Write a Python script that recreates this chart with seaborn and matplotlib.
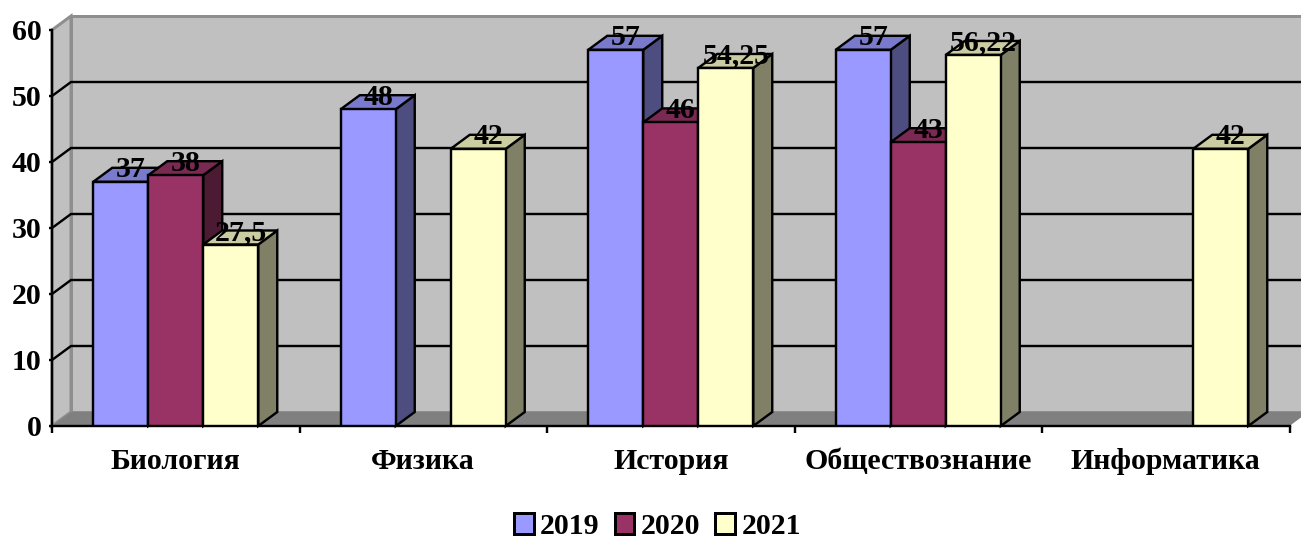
import numpy as np
import pandas as pd
import matplotlib
matplotlib.use("Agg")
import matplotlib.pyplot as plt
from matplotlib.colors import to_rgb
from matplotlib.lines import Line2D
from matplotlib.patches import Polygon, Rectangle
from matplotlib.transforms import IdentityTransform
import seaborn as sns

subjects = ["Биология", "Физика", "История", "Обществознание", "Информатика"]
years = ["2019", "2020", "2021"]
values_2019 = [37, 48, 57, 57, np.nan]
values_2020 = [38, np.nan, 46, 43, np.nan]
values_2021 = [27.5, 42, 54.25, 56.22, 42]
colors = ["#9999FF", "#993366", "#FFFFCC"]

DX, DY = 19, 14          # depth of the pseudo-3D projection, in pixels
EDGE_PX = 2.4
LW = EDGE_PX * 72 / 100

sns.set_theme(style="white")
plt.rcParams["font.family"] = ["Liberation Serif", "DejaVu Serif"]
plt.rcParams["font.weight"] = "bold"
FONT = 21.5

df = pd.DataFrame({
    "subject": subjects * 3,
    "year": sum([[y] * 5 for y in years], []),
    "value": values_2019 + values_2020 + values_2021,
})

fig = plt.figure(figsize=(13.01, 5.38), dpi=100)
ax = fig.add_axes([52 / 1301, (538 - 426) / 538, 1237.5 / 1301, 396 / 538])
sns.barplot(data=df, x="subject", y="value", hue="year", order=subjects, hue_order=years,
            palette=colors, width=2 / 3, gap=0, saturation=1, edgecolor="black",
            linewidth=LW, ax=ax, legend=False, errorbar=None)
ax.set_xlim(-0.5, 4.5)
ax.set_ylim(0, 60)
ax.set_xlabel("")
ax.set_ylabel("")
ax.patch.set_alpha(0)

ax.set_yticks(np.arange(0, 61, 10))
ax.set_xticks(range(len(subjects)))
ax.set_xticklabels(subjects, fontsize=FONT, fontweight="bold", color="black")
ax.set_xticks(np.arange(-0.5, 5), minor=True)
ax.tick_params(axis="x", which="major", length=0, pad=15.5)
ax.tick_params(axis="x", which="minor", length=5, width=LW, color="black", bottom=True)
ax.tick_params(axis="y", length=2, width=LW, color="black", left=True, pad=5.3,
               labelsize=FONT, labelcolor="black")
for lab in ax.get_yticklabels():
    lab.set_fontweight("bold")
sns.despine(ax=ax, top=True, right=True)
for s in ("left", "bottom"):
    ax.spines[s].set_color("black")
    ax.spines[s].set_linewidth(LW)
    ax.spines[s].set_zorder(2.5)

to_px = ax.transData.transform
x0, yb = to_px((-0.5, 0))
x1, yt = to_px((4.5, 60))


def poly(pts, face, edge="none", lw=0.0, z=1.0):
    ax.add_patch(Polygon(pts, closed=True, facecolor=face, edgecolor=edge, linewidth=lw,
                         transform=IdentityTransform(), clip_on=False, zorder=z,
                         joinstyle="miter"))


WALL, RIM, FLOOR = "#C0C0C0", "#8E8E8E", "#808080"
poly([(x0 + DX, yb + DY), (x1 + DX, yb + DY), (x1 + DX, yt + DY), (x0 + DX, yt + DY)], WALL, RIM, 3 * 0.72, 0.1)
poly([(x0, yb), (x0 + DX, yb + DY), (x0 + DX, yt + DY), (x0, yt)], WALL, RIM, 3 * 0.72, 0.2)
poly([(x0, yb), (x1, yb), (x1 + DX, yb + DY), (x0 + DX, yb + DY)], FLOOR, "none", 0, 0.3)

for tick in np.arange(10, 60, 10):
    _, yp = to_px((0, tick))
    ax.add_line(Line2D([x0, x0 + DX, x1 + DX], [yp, yp + DY, yp + DY], color="black", lw=LW,
                       transform=IdentityTransform(), clip_on=False, zorder=0.5))


def shade(c, k):
    return tuple(v * k for v in to_rgb(c))


bars = []
for container, col in zip(ax.containers, colors):
    for patch in container:
        if np.isfinite(patch.get_height()) and patch.get_height() > 0:
            bars.append((patch, col))
bars.sort(key=lambda b: b[0].get_x())

z = 3.0
for patch, col in bars:
    left, right = patch.get_x(), patch.get_x() + patch.get_width()
    h = patch.get_height()
    (xl, y0), (xr, y1) = to_px((left, 0)), to_px((right, h))
    poly([(xr, y0), (xr + DX, y0 + DY), (xr + DX, y1 + DY), (xr, y1)], shade(col, 0.5), "black", LW, z)
    poly([(xl, y1), (xr, y1), (xr + DX, y1 + DY), (xl + DX, y1 + DY)], shade(col, 0.8), "black", LW, z + 0.01)
    patch.set_zorder(z + 0.02)
    patch.set_joinstyle("miter")
    z += 0.1
    label = f"{h:g}".replace(".", ",")
    ax.annotate(label, xy=((left + right) / 2, h), xytext=(DX / 2 + 0.5, DY - 2), textcoords="offset pixels",
                ha="center", va="center", fontsize=FONT, fontweight="bold", color="black",
                zorder=20, annotation_clip=False)

handles = [Rectangle((0, 0), 1, 1, facecolor=c, edgecolor="black", linewidth=3 * 0.72) for c in colors]
fig.legend(handles, years, loc="center", bbox_to_anchor=(657.5 / 1301, 1 - 526.5 / 538), ncol=3,
           frameon=False, fontsize=FONT, handlelength=0.66, handleheight=0.66,
           handletextpad=0.22, columnspacing=0.5, borderpad=0, borderaxespad=0, labelcolor="black")

fig.savefig("out.png", dpi=100)
